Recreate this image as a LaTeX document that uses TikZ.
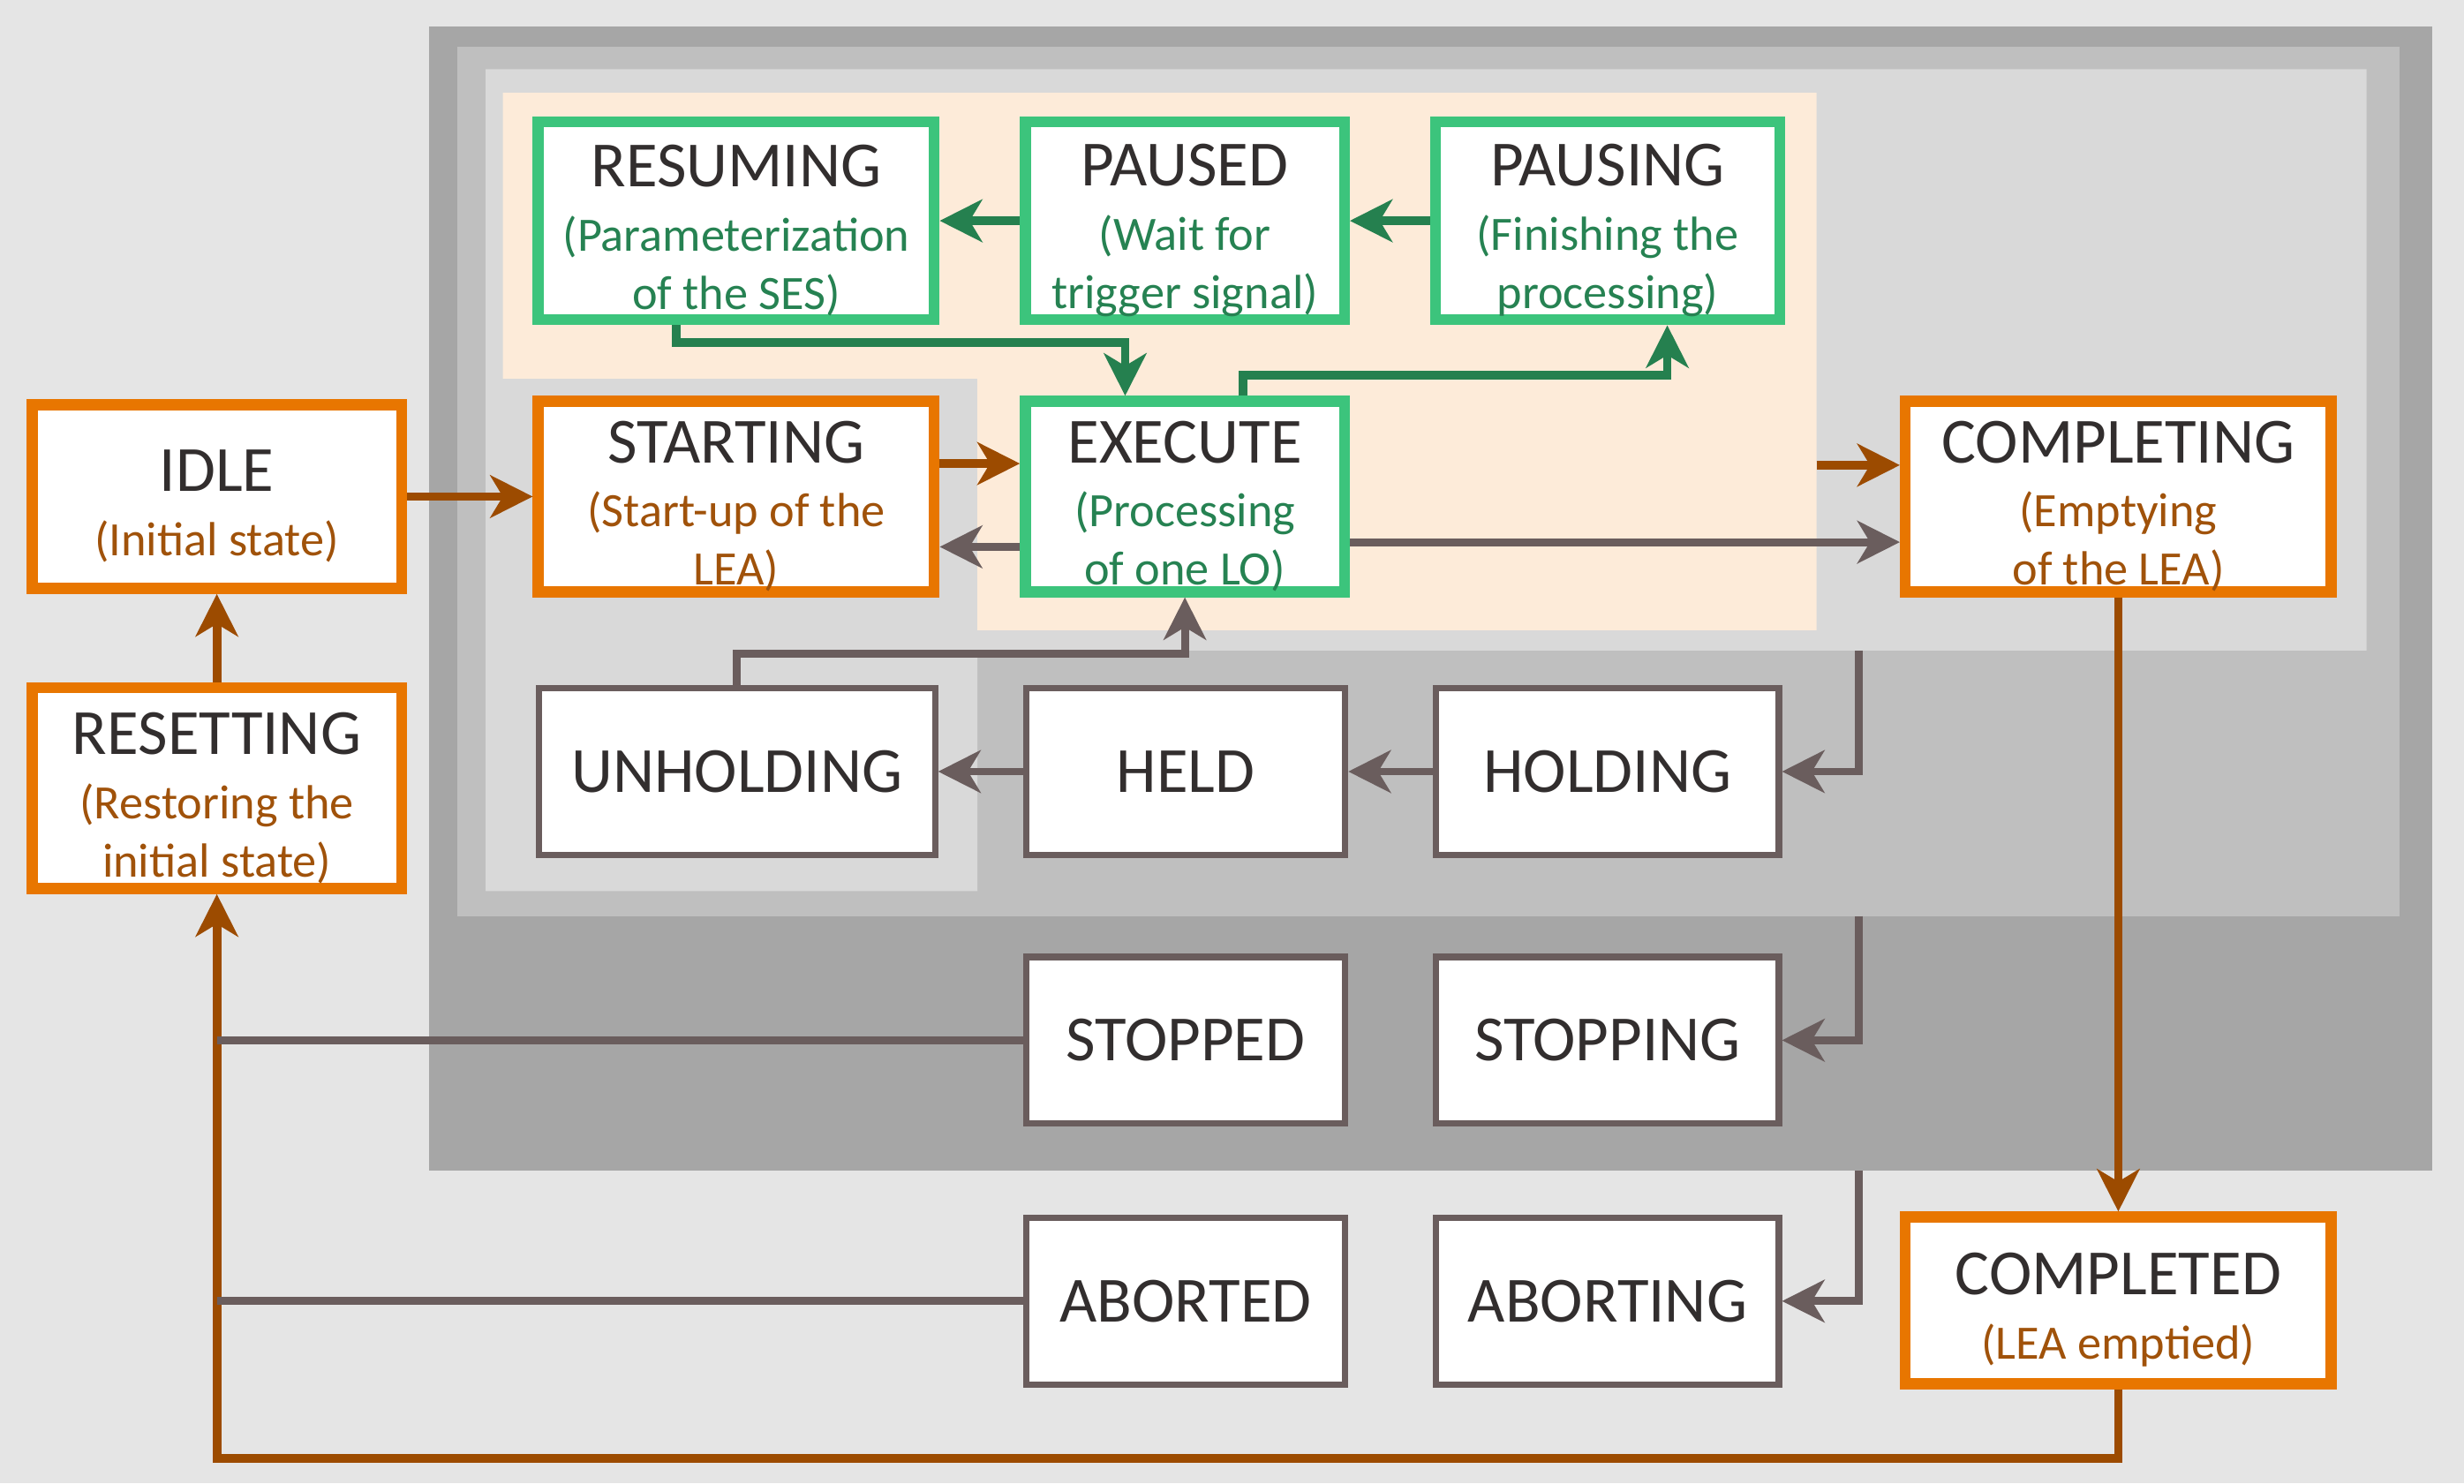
\documentclass[tikz,border=0pt]{standalone}
\usepackage{fontspec}
\setmainfont{Carlito}
\usetikzlibrary{arrows.meta}

\definecolor{bgcol}{HTML}{E5E5E5}
\definecolor{darkarea}{HTML}{A6A6A6}
\definecolor{midarea}{HTML}{BFBFBF}
\definecolor{lightarea}{HTML}{D9D9D9}
\definecolor{peacharea}{HTML}{FDEBD9}
\definecolor{stgreen}{HTML}{3CC47C}
\definecolor{storange}{HTML}{E87600}
\definecolor{stgray}{HTML}{6A5D5D}
\definecolor{arrgreen}{HTML}{25804F}
\definecolor{arrbrown}{HTML}{9C4B00}
\definecolor{txtgreen}{HTML}{268252}
\definecolor{txtorange}{HTML}{A0520A}
\definecolor{titlecol}{HTML}{322E2E}

\newcommand{\sttitle}{\fontsize{41}{48}\selectfont}
\newcommand{\stsub}{\fontsize{30.5}{37}\selectfont}
\newcommand{\sttl}[1]{{\sttitle\color{titlecol}\rule{0pt}{39pt}#1}}
\newcommand{\sgr}[1]{\textcolor{txtgreen}{#1}}
\newcommand{\sor}[1]{\textcolor{txtorange}{#1}}

\begin{document}
\begin{tikzpicture}[
    x=1pt, y=-1pt,
    greenbox/.style = {draw=stgreen, line width=7pt, fill=white, inner sep=0pt, align=center, font=\stsub},
    orangebox/.style = {draw=storange, line width=7pt, fill=white, inner sep=0pt, align=center, font=\stsub},
    graybox/.style = {draw=stgray, line width=4pt, fill=white, inner sep=0pt, font=\sttitle, text=titlecol,
        minimum width=203pt, minimum height=106pt},
    greenline/.style = {draw=arrgreen, line width=5.5pt, -{Stealth[length=27pt, width=27pt, inset=8pt]}},
    brownline/.style = {draw=arrbrown, line width=5.5pt, -{Stealth[length=27pt, width=27pt, inset=8pt]}},
    grayline/.style = {draw=stgray, line width=5pt, -{Stealth[length=27pt, width=27pt, inset=8pt]}},
    plainline/.style = {draw=stgray, line width=5pt}
    ]
    \useasboundingbox (0,0) rectangle (1568,944);
    % nested areas
    \fill[bgcol] (0,0) rectangle (1568,944);
    \fill[darkarea] (273,17) rectangle (1548,745);
    \fill[midarea] (291,30) rectangle (1527,583);
    \fill[lightarea] (309,44) -- (1506,44) -- (1506,414) -- (622,414) -- (622,567) -- (309,567) -- cycle;
    \fill[peacharea] (320,59) -- (1156,59) -- (1156,401) -- (622,401) -- (622,241) -- (320,241) -- cycle;
    \coordinate (peachR) at (1156,296);
    \coordinate (lightB) at (1183,414);
    \coordinate (midB) at (1183,583);
    \coordinate (darkB) at (1183,745);

    \node[greenbox, minimum width=252pt, minimum height=126pt] (RESUMING) at (468.5,140.5)
        {\sttl{RESUMING}\\[4pt]\sgr{(Parameterization}\\\sgr{of the SES)}};
    \node[greenbox, minimum width=203pt, minimum height=126pt] (PAUSED) at (754,140.5)
        {\sttl{PAUSED}\\[4pt]\sgr{(Wait for}\\\sgr{trigger signal)}};
    \node[greenbox, minimum width=219pt, minimum height=126pt] (PAUSING) at (1023,140.5)
        {\sttl{PAUSING}\\[4pt]\sgr{(Finishing the}\\\sgr{processing)}};
    \node[orangebox, minimum width=235pt, minimum height=117pt] (IDLE) at (138,316)
        {\sttl{IDLE}\\[4pt]\sor{(Initial state)}};
    \node[orangebox, minimum width=252pt, minimum height=117pt] (STARTING) at (468.5,316)
        {\sttl{STARTING}\\[4pt]\sor{(Start-up of the}\\\sor{LEA)}};
    \node[greenbox, minimum width=203pt, minimum height=117pt] (EXECUTE) at (754,316)
        {\sttl{EXECUTE}\\[4pt]\sgr{(Processing}\\\sgr{of one LO)}};
    \node[orangebox, minimum width=271pt, minimum height=117pt] (COMPLETING) at (1348,316)
        {\sttl{COMPLETING}\\[4pt]\sor{(Emptying}\\\sor{of the LEA)}};
    \node[orangebox, minimum width=235pt, minimum height=128pt] (RESETTING) at (138,501.5)
        {\sttl{RESETTING}\\[4pt]\sor{(Restoring the}\\\sor{initial state)}};
    \node[orangebox, minimum width=271pt, minimum height=106pt] (COMPLETED) at (1348,827.5)
        {\sttl{COMPLETED}\\[4pt]\sor{(LEA emptied)}};

    \node[graybox, minimum width=252pt] (UNHOLDING) at (469,491) {UNHOLDING};
    \node[graybox] (HELD) at (754.5,491) {HELD};
    \node[graybox, minimum width=218pt] (HOLDING) at (1023,491) {HOLDING};
    \node[graybox] (STOPPED) at (754.5,662) {STOPPED};
    \node[graybox, minimum width=218pt] (STOPPING) at (1023,662) {STOPPING};
    \node[graybox] (ABORTED) at (754.5,828) {ABORTED};
    \node[graybox, minimum width=218pt] (ABORTING) at (1023,828) {ABORTING};

    \draw[greenline] (PAUSED.west) -- (RESUMING.east);
    \draw[greenline] (PAUSING.west) -- (PAUSED.east);
    \draw[greenline] ([xshift=-38pt]RESUMING.south) -- ++(0,11) -| ([xshift=-38pt]EXECUTE.north);
    \draw[greenline] ([xshift=37pt]EXECUTE.north) -- ++(0,-13) -| ([xshift=38pt]PAUSING.south);
    \draw[brownline] (IDLE) -- (STARTING);
    \draw[brownline] ([yshift=21pt]STARTING.east) -- ([yshift=21pt]EXECUTE.west);
    \draw[grayline] ([yshift=-32pt]EXECUTE.west) -- ([yshift=-32pt]STARTING.east);
    \draw[brownline] (peachR) -- (peachR -| COMPLETING.west);
    \draw[grayline] ([yshift=-29pt]EXECUTE.east) -- ([yshift=-29pt]COMPLETING.west);
    \draw[brownline] (COMPLETING) -- (COMPLETED);
    \draw[brownline] (RESETTING) -- (IDLE);
    \draw[brownline] (COMPLETED.south) -- ++(0,44) -| (RESETTING.south);
    \draw[plainline] (STOPPED.west) -- (STOPPED.west -| RESETTING.south);
    \draw[plainline] (ABORTED.west) -- (ABORTED.west -| RESETTING.south);
    \draw[grayline] (UNHOLDING.north) -- ++(0,-20) -| (EXECUTE.south);
    \draw[grayline] (HELD) -- (UNHOLDING);
    \draw[grayline] (HOLDING) -- (HELD);
    \draw[grayline] (lightB) |- (HOLDING.east);
    \draw[grayline] (midB) |- (STOPPING.east);
    \draw[grayline] (darkB) |- (ABORTING.east);
\end{tikzpicture}
\end{document}
